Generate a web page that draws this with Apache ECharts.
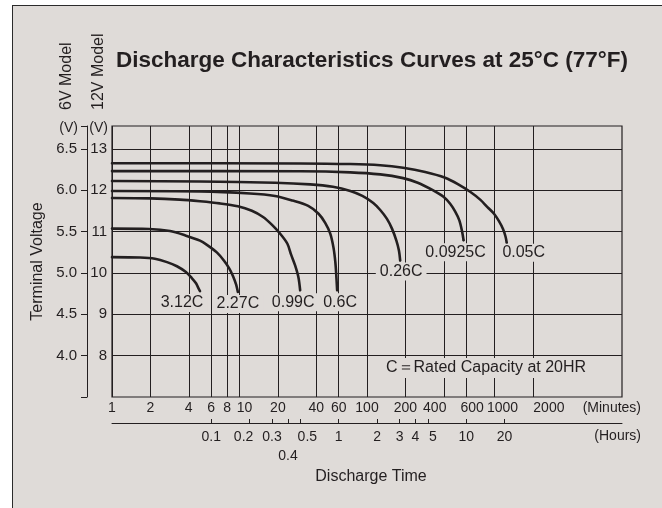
<!DOCTYPE html>
<html><head><meta charset="utf-8">
<script src="https://cdn.jsdelivr.net/npm/echarts@6/dist/echarts.min.js"></script>
<style>
html,body{margin:0;padding:0;background:#ffffff;}
#wrap{position:relative;width:662px;height:508px;overflow:hidden;}
#panel{position:absolute;left:12px;top:5px;width:660px;height:510px;background:#dfdbd8;border-left:1.5px solid #2b2b2b;border-top:1.2px solid #2b2b2b;}
#chart{position:absolute;left:0;top:0;width:662px;height:508px;}
</style></head><body>
<div id="wrap"><div id="panel"></div><div id="chart"></div></div>
<script>
// ---- data ----
const minuteTicks = [1, 2, 4, 6, 8, 10, 20, 40, 60, 100, 200, 400, 600, 1000, 2000];
const hourTicks = [0.1, 0.2, 0.3, 0.4, 0.5, 1, 2, 3, 4, 5, 10, 20];
const volt12Ticks = [8, 9, 10, 11, 12, 13];
const volt6Ticks = [4.0, 4.5, 5.0, 5.5, 6.0, 6.5];
const curveNames = ['3.12C', '2.27C', '0.99C', '0.6C', '0.26C', '0.0925C', '0.05C'];
// [minutes, volts (12V model)]
const c312 = [[1,10.38],[1.66,10.37],[2.17,10.34],[2.7,10.26],[3.23,10.16],[3.8,10.02],[4.24,9.87],[4.56,9.75],[4.76,9.63],[4.9,9.56]];
const c227 = [[1,11.07],[1.95,11.06],[2.85,11.01],[3.8,10.9],[4.9,10.78],[5.66,10.66],[6.67,10.49],[7.54,10.3],[8.3,10.11],[8.9,9.92],[9.4,9.72],[9.71,9.54]];
const c099 = [[1,11.81],[2,11.8],[3.4,11.77],[4.9,11.73],[7,11.68],[9.7,11.61],[12.5,11.5],[15.3,11.35],[18,11.16],[20.8,10.95],[23.7,10.71],[25.4,10.44],[27.3,10.18],[29,9.89],[29.9,9.58]];
const c060 = [[1,11.98],[4.9,11.97],[12.1,11.92],[19,11.86],[26,11.75],[34.6,11.62],[41.7,11.43],[47,11.21],[51.5,10.95],[54.6,10.61],[56.5,10.25],[57.5,9.91],[58.3,9.58]];
const c026 = [[1,12.22],[4.9,12.21],[19,12.18],[35.8,12.14],[54,12.08],[74,11.98],[92,11.86],[112,11.69],[127,11.52],[143,11.31],[157,11.07],[170,10.78],[178,10.54],[182,10.3]];
const c00925 = [[1,12.46],[30,12.455],[74,12.43],[127,12.38],[192,12.29],[250,12.18],[328,12.0],[398,11.84],[449,11.67],[492,11.48],[530,11.27],[557,11.0],[572,10.79]];
const c005 = [[1,12.65],[30,12.645],[74,12.63],[127,12.6],[192,12.54],[286,12.44],[410,12.3],[520,12.14],[644,11.96],[772,11.77],[880,11.59],[991,11.43],[1084,11.25],[1166,11.06],[1220,10.88],[1247,10.73]];
const curves = [c312, c227, c099, c060, c026, c00925, c005];

// ---- style ----
const FONT = '"Liberation Sans", Arial, Helvetica, sans-serif';
const INK = '#231f20';
const BG = '#dfdbd8';
const labelPlace = [
  {d: 2, o: [-18, 0]},
  {d: 2, o: [0, 0]},
  {d: 2, o: [-7, 0]},
  {d: 2, o: [3, 0]},
  {d: 1, o: [1, 0]},
  {d: 2, o: [-8, 0]},
  {d: 0, o: [17, 0]}
];
// horizontal nudges of tick labels (px) to keep them apart, as in the print
const minuteShift = {10: 5, 400: -9, 600: 6, 1000: 8, 2000: 16};
const hourShift = {0.2: -6, 0.5: 7, 5: 5};

function richFor(shiftMap) {
  const rich = {n: {}};
  Object.keys(shiftMap).forEach((k, i) => {
    const s = shiftMap[k];
    rich['s' + i] = {padding: s > 0 ? [0, 0, 0, 2 * s] : [0, -2 * s, 0, 0]};
  });
  return rich;
}
function fmtFor(shiftMap) {
  const keys = Object.keys(shiftMap).map(Number);
  return function (v) {
    const txt = String(+Number(v).toFixed(3));
    const idx = keys.findIndex(k => Math.abs(k - v) < 1e-9);
    if (idx >= 0) return '{s' + idx + '|' + txt + '}';
    return txt;
  };
}

function makeSeries(name, pts, lp) {
  const data = pts.map((p, i) => {
    if (i !== pts.length - 1) return p;
    return {
      value: p, symbol: 'circle', symbolSize: 2,
      label: {
        show: true, formatter: name, position: 'bottom', distance: lp.d, offset: lp.o,
        color: INK, fontSize: 16, fontFamily: FONT, backgroundColor: BG, padding: [1, 4]
      }
    };
  });
  return {
    type: 'line', name: name, data: data, xAxisIndex: 0, yAxisIndex: 0,
    smooth: 0.3, symbol: 'none', showSymbol: true,
    lineStyle: {color: INK, width: 2.6, cap: 'round', join: 'round'}, itemStyle: {color: INK},
    label: {show: false}, silent: true, z: 5
  };
}

const chart = echarts.init(document.getElementById('chart'), null, {renderer: 'canvas'});
const axisText = {color: INK, fontFamily: FONT, fontSize: 14};

const hourFmt = fmtFor(hourShift);
chart.setOption({
  animation: false,
  backgroundColor: 'transparent',
  title: [
    {text: 'Discharge Characteristics Curves at 25°C (77°F)', left: 116, top: 49, padding: 0,
     textStyle: {fontSize: 22.5, fontWeight: 'bold', color: INK, fontFamily: FONT}},
    {text: 'C＝Rated Capacity at 20HR', left: 382, top: 358, padding: [2, 4, 2, 4], backgroundColor: BG,
     textStyle: {fontSize: 16, fontWeight: 'normal', color: INK, fontFamily: FONT}}
  ],
  graphic: [
    {type: 'text', x: 67, y: 110, rotation: Math.PI / 2,
     style: {text: '6V Model', align: 'left', verticalAlign: 'middle', fill: INK, font: '16px ' + FONT}},
    {type: 'text', x: 99, y: 110, rotation: Math.PI / 2,
     style: {text: '12V Model', align: 'left', verticalAlign: 'middle', fill: INK, font: '16px ' + FONT}}
  ],
  grid: {left: 112, right: 40, top: 126, bottom: 111, show: true, borderColor: INK, borderWidth: 1.2, backgroundColor: 'transparent', containLabel: false},
  xAxis: [
    {type: 'log', logBase: 10, min: 1, max: 10000, position: 'bottom',
     axisLine: {show: false, onZero: false}, axisTick: {show: false, customValues: minuteTicks},
     minorTick: {show: false}, minorSplitLine: {show: false},
     splitLine: {show: true, lineStyle: {color: INK, width: 1}},
     axisLabel: Object.assign({customValues: minuteTicks, formatter: fmtFor(minuteShift), rich: richFor(minuteShift), margin: 4}, axisText),
     name: 'Discharge Time', nameLocation: 'middle', nameGap: 80,
     nameTextStyle: {color: INK, fontFamily: FONT, fontSize: 16, verticalAlign: 'middle', padding: [0, 0, 0, 8]}},
    {type: 'log', logBase: 10, min: 1 / 60, max: 10000 / 60, position: 'bottom', offset: 26,
     axisLine: {show: true, onZero: false, lineStyle: {color: INK, width: 1}},
     axisTick: {show: true, inside: true, length: 4, customValues: [1 / 60].concat(hourTicks, [10000 / 60]), lineStyle: {color: INK, width: 1}},
     minorTick: {show: false}, splitLine: {show: false},
     axisLabel: Object.assign({customValues: hourTicks,
       formatter: v => (Math.abs(v - 0.4) < 1e-9 ? '\n0.4' : hourFmt(v)),
       rich: richFor(hourShift), margin: 5, lineHeight: 19}, axisText),
     name: '(Hours)', nameLocation: 'end', nameGap: 19,
     nameTextStyle: {color: INK, fontFamily: FONT, fontSize: 14, align: 'right', verticalAlign: 'top', padding: [6, 0, 0, 0]}},
    {type: 'log', logBase: 10, min: 1, max: 10000, position: 'bottom', offset: 11,
     axisLine: {show: false, onZero: false}, axisTick: {show: false}, axisLabel: {show: false}, splitLine: {show: false},
     name: '(Minutes)', nameLocation: 'end', nameGap: 19,
     nameTextStyle: {color: INK, fontFamily: FONT, fontSize: 14, align: 'right', verticalAlign: 'middle'}}
  ],
  yAxis: [
    {type: 'value', min: 7, max: 13.55, position: 'left',
     axisLine: {show: false}, axisTick: {show: false, customValues: volt12Ticks},
     splitLine: {show: true, lineStyle: {color: INK, width: 1}},
     axisLabel: Object.assign({customValues: volt12Ticks, margin: 5}, axisText, {fontSize: 15}),
     name: '(V)', nameLocation: 'end', nameGap: -2,
     nameTextStyle: {color: INK, fontFamily: FONT, fontSize: 14, align: 'right', verticalAlign: 'middle', padding: [0, 4, 0, 0]}},
    {type: 'value', min: 3.5, max: 6.775, position: 'left', offset: 25,
     axisLine: {show: true, onZero: false, lineStyle: {color: INK, width: 1}},
     axisTick: {show: true, length: 6, customValues: [3.5].concat(volt6Ticks, [6.775]), lineStyle: {color: INK, width: 1}},
     splitLine: {show: false},
     axisLabel: Object.assign({customValues: volt6Ticks, formatter: v => v.toFixed(1), margin: 10}, axisText, {fontSize: 15}),
     name: 'Terminal Voltage', nameLocation: 'middle', nameGap: 42, nameRotate: 90,
     nameTextStyle: {color: INK, fontFamily: FONT, fontSize: 16, verticalAlign: 'middle'}},
    {type: 'value', min: 3.5, max: 6.775, position: 'left', offset: 25,
     axisLine: {show: false}, axisTick: {show: false}, axisLabel: {show: false}, splitLine: {show: false},
     name: '(V)', nameLocation: 'end', nameGap: -2,
     nameTextStyle: {color: INK, fontFamily: FONT, fontSize: 14, align: 'right', verticalAlign: 'middle', padding: [0, 9, 0, 0]}}
  ],
  series: curves.map((pts, i) => makeSeries(curveNames[i], pts, labelPlace[i]))
});
</script></body></html>
